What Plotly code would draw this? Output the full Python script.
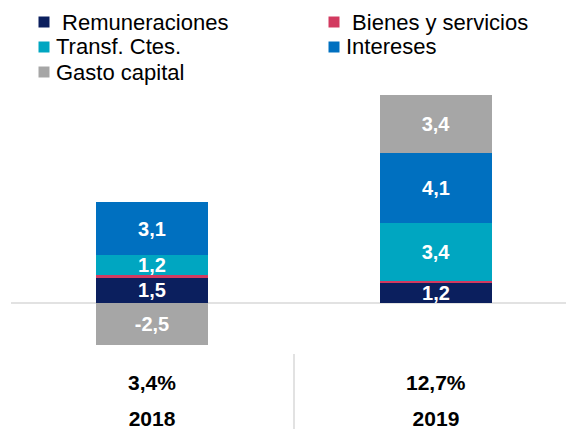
import plotly.graph_objects as go

years = ["2018", "2019"]
growth = ["3,4%", "12,7%"]
series_names = ["\u00a0Remuneraciones", "\u00a0Bienes y servicios", "Transf. Ctes.", "Intereses", "Gasto capital"]
remuneraciones = [1.5, 1.2]
bienes = [0.1, 0.1]
transf = [1.2, 3.4]
intereses = [3.1, 4.1]
gasto_capital = [-2.5, 3.4]
show_label = [True, False, True, True, True]
colors = ["#0b1f5e", "#d23a60", "#00a6c1", "#0070c0", "#a6a6a6"]
# legend layout: (column, row) of each series
legend_slots = [(0, 0), (1, 0), (0, 1), (1, 1), (0, 2)]

FONT = "Arial, Liberation Sans, sans-serif"

# figure geometry (page body adds an 8px offset)
W, H = 566, 421
ML, MR, MT, MB = 3, 0, 82, 77
PW, PH = W - ML - MR, H - MT - MB


def px_x(x):
    return (x - ML) / PW


def px_y(y):
    return (H - MB - y) / PH


def fmt(v):
    return f"{v:.1f}".replace(".", ",")


fig = go.Figure()
for name, vals, col, lab in zip(series_names,
                                [remuneraciones, bienes, transf, intereses, gasto_capital],
                                colors, show_label):
    fig.add_trace(go.Bar(
        x=list(range(len(years))), y=vals, name=name.strip(),
        marker=dict(color=col, line=dict(width=0)),
        width=0.394,
        text=[fmt(v) for v in vals] if lab else None,
        textposition="inside" if lab else "none",
        insidetextanchor="middle",
        textangle=0,
        textfont=dict(color="white", size=20, family=FONT, weight="bold"),
        hoverinfo="skip",
        showlegend=False,
    ))

# growth row under the bars
for i, g in enumerate(growth):
    fig.add_annotation(x=i, y=px_y(374.5), xref="x", yref="paper",
                       text=f"<b>{g}</b>", showarrow=False,
                       font=dict(size=21, color="black", family=FONT),
                       yanchor="middle", xanchor="center")

# divider lines in the bottom table area
for xv in [-0.5, 0.5]:
    fig.add_shape(type="line", xref="x", yref="paper", x0=xv, x1=xv,
                  y0=px_y(346), y1=px_y(430), line=dict(color="#e2e2e2", width=2),
                  layer="below")

# legend (two columns, row-major)
col_marker_x = [36, 326]
col_text_x = [46, 336]
row_y = [14, 39, 64]
msz = 11
for name, col, (c, r) in zip(series_names, colors, legend_slots):
    cx, cy = col_marker_x[c], row_y[r]
    fig.add_shape(type="rect", xref="paper", yref="paper",
                  x0=px_x(cx - msz / 2), x1=px_x(cx + msz / 2),
                  y0=px_y(cy + msz / 2), y1=px_y(cy - msz / 2),
                  fillcolor=col, line=dict(width=0))
    fig.add_annotation(x=px_x(col_text_x[c]), y=px_y(cy), xref="paper", yref="paper",
                       text=name, showarrow=False, xanchor="left", yanchor="middle",
                       font=dict(size=22, color="black", family=FONT))

fig.update_layout(
    width=W, height=H,
    barmode="relative",
    bargap=0,
    paper_bgcolor="white", plot_bgcolor="white",
    margin=dict(l=ML, r=MR, t=MT, b=MB, autoexpand=False),
    uniformtext=dict(minsize=20, mode="show"),
    showlegend=False,
    xaxis=dict(range=[-0.4965, 1.486], showgrid=False, zeroline=False,
               showline=False, ticks="", tickmode="array",
               tickvals=list(range(len(years))), ticktext=years,
               ticklabelstandoff=52,
               tickfont=dict(size=21, color="black", family=FONT, weight="bold")),
    yaxis=dict(range=[-2.9, 12.51], showgrid=False, showticklabels=False,
               zeroline=True, zerolinecolor="#e2e2e2", zerolinewidth=2,
               showline=False),
)

fig.write_html("out.html")
